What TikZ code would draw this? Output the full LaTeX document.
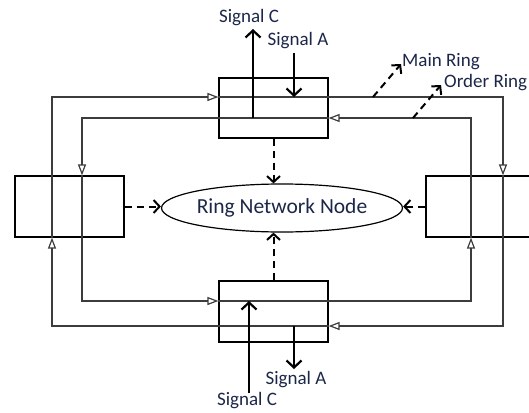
\documentclass[tikz,border=0pt]{standalone}
\usepackage{fontspec}
\setmainfont{Carlito}
\usetikzlibrary{arrows.meta,shapes.geometric,calc}
\definecolor{txt}{RGB}{28,38,72}
\definecolor{ringc}{RGB}{60,60,60}
\begin{document}
\begin{tikzpicture}[x=1pt,y=-1pt,
  box/.style={draw=black,line width=1.2pt,minimum width=109pt,minimum height=60pt,inner sep=0pt},
  ring/.style={draw=ringc,line width=1.3pt},
  rtip/.style={ring,-{Triangle[open,length=11pt,width=8pt,line width=1.2pt]}},
  sig/.style={draw=black,line width=2.2pt,-{Straight Barb[length=7pt,width=15pt,line width=2.2pt]}},
  dasharrow/.style={draw=black,line width=2pt,dash pattern=on 7pt off 5pt,-{Straight Barb[length=6pt,width=13pt,line width=2pt]}},
  lbl/.style={text=txt,font=\fontsize{19}{22}\selectfont,inner sep=0pt},
]
\useasboundingbox (0,0) rectangle (529,412);

% boxes
\node[box] (T) at (273.5,108) {};
\node[box,minimum height=61pt] (B) at (273.5,311.5) {};
\node[box,minimum height=61pt] (L) at (69.5,206.5) {};
\node[box,minimum height=61pt] (R) at (480.5,206.5) {};
\node[ellipse,draw=black,line width=1.2pt,minimum width=218pt,minimum height=48pt,inner sep=0pt,
      text=txt,font=\fontsize{21.5}{25}\selectfont] (N) at (282,208) {Ring Network Node};

% ring corners
\coordinate (oTL) at (52,97);
\coordinate (oTR) at (503,97);
\coordinate (oBR) at (503,326);
\coordinate (oBL) at (52,326);
\coordinate (iTL) at (82,118);
\coordinate (iTR) at (471,118);
\coordinate (iBR) at (471,301);
\coordinate (iBL) at (82,301);

% main (outer) ring
\draw[rtip] (L.north -| oTL) -- (oTL) -- (T.west |- oTL);
\draw[rtip] (T.west |- oTL) -- (oTR) -- (R.north -| oTR);
\draw[rtip] (R.north -| oTR) -- (oBR) -- (B.east |- oBR);
\draw[rtip] (B.east |- oBR) -- (oBL) -- (L.south -| oBL);
\draw[ring] (L.south -| oBL) -- (L.north -| oTL);

% order (inner) ring
\draw[rtip] (R.north -| iTR) -- (iTR) -- (T.east |- iTR);
\draw[rtip] (T.east |- iTR) -- (iTL) -- (L.north -| iTL);
\draw[rtip] (L.north -| iTL) -- (iBL) -- (B.west |- iBL);
\draw[rtip] (B.west |- iBL) -- (iBR) -- (R.south -| iBR);
\draw[ring] (R.south -| iBR) -- (R.north -| iTR);

% dashed arrows to ring network node
\draw[dasharrow] (L.east) -- (L.east -| N.west);
\draw[dasharrow] (R.west) -- (R.west -| N.east);
\draw[dasharrow] (T.south) -- (T.south |- N.north);
\draw[dasharrow] (B.north) -- (B.north |- N.south);

% ring labels
\coordinate (mr0) at (373,97);
\coordinate (mr1) at (401,64);
\coordinate (or0) at (413,118);
\coordinate (or1) at (441,85);
\draw[dasharrow] (mr0) -- (mr1);
\draw[dasharrow] (or0) -- (or1);
\node[lbl,anchor=west] (mrl) at (402,62) {Main Ring};
\node[lbl,anchor=west] (orl) at (444,83) {Order Ring};

% signals top
\node[lbl] (tsc) at (249,18) {Signal C};
\node[lbl] (tsa) at (298,41) {Signal A};
\coordinate (tc0) at (253,118);
\coordinate (tc1) at (253,29);
\coordinate (ta0) at (294,53);
\coordinate (ta1) at (294,97);
\draw[sig] (tc0) -- (tc1);
\draw[sig] (ta0) -- (ta1);

% signals bottom
\node[lbl] (bsa) at (296,380) {Signal A};
\node[lbl] (bsc) at (247,401) {Signal C};
\coordinate (bc0) at (249,393);
\coordinate (bc1) at (249,301);
\coordinate (ba0) at (294,326);
\coordinate (ba1) at (294,369);
\draw[sig] (bc0) -- (bc1);
\draw[sig] (ba0) -- (ba1);
\end{tikzpicture}
\end{document}
